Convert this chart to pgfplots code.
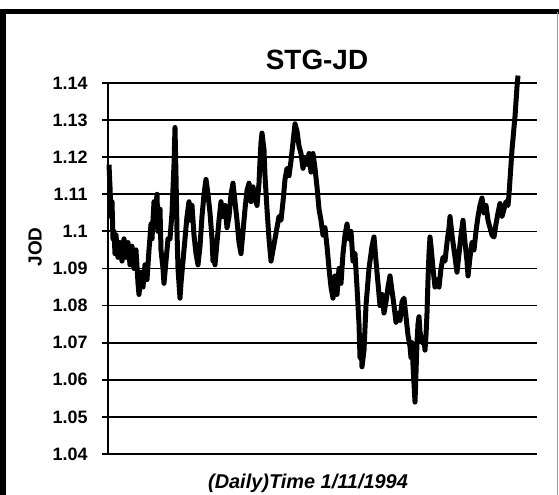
\documentclass[border=0pt]{standalone}
\usepackage{fontspec}
\setmainfont{Liberation Sans}
\usepackage{pgfplots}
\pgfplotsset{compat=1.18}
\begin{document}
\begin{tikzpicture}
\useasboundingbox (-108bp,-41bp) rectangle (451bp,454bp);
\clip (-108bp,-41bp) rectangle (451bp,454bp);
\begin{axis}[
  at={(0,0)}, anchor=south west,
  scale only axis,
  width=429bp, height=371bp,
  xmin=108, xmax=537,
  ymin=1.04, ymax=1.14,
  axis x line=bottom, axis y line=left,
  axis line style={-, line width=1.8bp, black},
  xtick=\empty,
  ytick={1.04,1.05,1.06,1.07,1.08,1.09,1.10,1.11,1.12,1.13,1.14},
  yticklabel style={/pgf/number format/fixed, /pgf/number format/precision=2,
    font=\bfseries\fontsize{18}{18}\selectfont, xshift=-11bp},
  /pgf/number format/assume math mode=true,
  tick align=center, major tick length=12bp,
  tick style={line width=1.8bp, black},
  ymajorgrids, grid style={line width=1.7bp, black},
  clip=false,
]
\addplot[black, line width=5bp, line join=round] coordinates {
(109,1.118) (110,1.112) (111,1.104) (112,1.108) (113,1.098) (114,1.100)
(115,1.094) (116,1.099) (118,1.093) (120,1.097) (122,1.092) (124,1.098)
(126,1.093) (128,1.097) (130,1.091) (132,1.096) (134,1.090) (136,1.095)
(138,1.086) (139,1.083) (141,1.089) (143,1.085) (145,1.091) (147,1.087)
(149,1.095) (151,1.102) (152,1.098) (154,1.108) (155,1.103) (157,1.110)
(158,1.100) (160,1.106) (161,1.095) (163,1.090) (164,1.086) (166,1.092)
(168,1.098) (170,1.098) (172,1.105) (174,1.118) (175,1.128) (176,1.115)
(177,1.100) (178,1.090) (180,1.082) (181,1.086) (183,1.092) (185,1.098)
(187,1.104) (189,1.108) (190,1.103) (192,1.107) (194,1.099) (196,1.094)
(198,1.091) (200,1.096) (202,1.104) (204,1.110) (206,1.114) (208,1.110)
(210,1.105) (212,1.098) (213,1.092) (214,1.096) (215,1.091) (217,1.097)
(219,1.103) (221,1.108) (223,1.104) (225,1.107) (227,1.101) (229,1.104)
(231,1.110) (233,1.113) (235,1.108) (237,1.103) (239,1.097) (241,1.094)
(243,1.100) (245,1.106) (247,1.111) (249,1.113) (251,1.108) (253,1.112)
(255,1.109) (257,1.107) (259,1.113) (260,1.119) (261,1.124) (262,1.1265)
(264,1.122) (265,1.115) (267,1.106) (269,1.098) (271,1.092) (273,1.095)
(275,1.098) (277,1.101) (279,1.104) (281,1.103) (283,1.108) (285,1.114)
(287,1.117) (289,1.115) (291,1.119) (293,1.124) (295,1.129) (297,1.127)
(299,1.123) (301,1.121) (303,1.117) (305,1.120) (307,1.118) (309,1.121)
(311,1.116) (313,1.121) (315,1.117) (317,1.112) (319,1.106) (321,1.103)
(323,1.099) (325,1.101) (327,1.096) (329,1.090) (331,1.085) (333,1.082)
(335,1.088) (337,1.083) (339,1.090) (341,1.086) (343,1.094) (345,1.099)
(347,1.102) (349,1.098) (351,1.100) (353,1.092) (355,1.094) (357,1.085)
(359,1.075) (360,1.066) (361,1.070) (362,1.0635) (364,1.068) (366,1.080)
(369,1.090) (372,1.096) (374,1.0985) (376,1.092) (378,1.086) (380,1.080)
(382,1.083) (384,1.078) (386,1.081) (388,1.085) (390,1.088) (392,1.084)
(394,1.080) (396,1.0755) (398,1.078) (400,1.076) (402,1.081) (404,1.082)
(406,1.077) (408,1.072) (410,1.069) (411,1.066) (412,1.070) (413,1.064)
(414,1.059) (415,1.054) (416,1.062) (417,1.070) (418,1.075) (419,1.077)
(420,1.073) (422,1.070) (424,1.071) (425,1.068) (426,1.072) (427,1.078)
(428,1.087) (429,1.094) (430,1.0985) (431,1.096) (433,1.090) (435,1.085)
(437,1.087) (439,1.085) (441,1.090) (443,1.093) (445,1.092) (447,1.097)
(449,1.101) (450,1.104) (452,1.099) (454,1.095) (456,1.091) (457,1.089)
(459,1.094) (461,1.099) (463,1.103) (465,1.097) (467,1.092) (468,1.088)
(470,1.093) (472,1.097) (474,1.095) (476,1.100) (478,1.104) (480,1.107)
(482,1.109) (484,1.105) (486,1.107) (488,1.103) (490,1.101) (492,1.099)
(494,1.0985) (496,1.102) (498,1.105) (500,1.1075) (502,1.104) (504,1.106)
(506,1.108) (508,1.107) (509,1.110) (510,1.114) (511,1.118) (512,1.122)
(513,1.125) (514,1.128) (515,1.131) (516,1.135) (517,1.139) (518,1.142)
};
\end{axis}
% outer frame
\draw[line width=6bp, black] (-105bp,-41bp) -- (-105bp,442bp);
\draw[line width=5bp, black] (-108bp,442bp) -- (451bp,442bp);
\draw[line width=1bp, black!40] (449bp,-41bp) -- (449bp,442bp);
% title and labels
\node[anchor=base, font=\bfseries\fontsize{28}{28}\selectfont] at (209bp,384bp) {STG-JD};
\node[rotate=90, font=\bfseries\fontsize{19}{19}\selectfont] at (-73bp,207bp) {JOD};
\node[anchor=south, inner sep=0pt, font=\bfseries\itshape\fontsize{20}{20}\selectfont] at (200bp,-39bp) {(Daily)Time 1/11/1994};
\end{tikzpicture}
\end{document}
